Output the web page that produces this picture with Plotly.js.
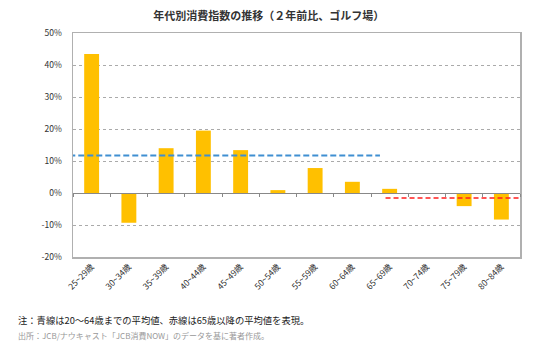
<!DOCTYPE html>
<html>
<head>
<meta charset="utf-8">
<script src="https://cdn.plot.ly/plotly-3.0.1.min.js"></script>
<style>
html,body{margin:0;padding:0;background:#fff;}
#chart{width:554px;height:352px;}
</style>
</head>
<body>
<div id="chart"></div>
<script>
const categories = ["25~29歳","30~34歳","35~39歳","40~44歳","45~49歳","50~54歳","55~59歳","60~64歳","65~69歳","70~74歳","75~79歳","80~84歳"];
const values = [43.4, -9.3, 14.0, 19.5, 13.4, 0.9, 7.8, 3.5, 1.3, 0, -4.1, -8.3];
const avgUnder65 = 11.7;
const avgOver65 = -1.6;
const yTickVals = [-20, -10, 0, 10, 20, 30, 40, 50];
const yTickText = ["-20%", "-10%", "0%", "10%", "20%", "30%", "40%", "50%"];

const font = "'Noto Sans CJK JP', 'Noto Sans', sans-serif";

const traces = [
  {
    type: "bar",
    x: categories,
    y: values,
    marker: {color: "#FFC000", line: {width: 0}},
    width: 0.4,
    hoverinfo: "skip",
    xaxis: "x",
    yaxis: "y"
  },
  {
    type: "scatter",
    mode: "markers",
    x: categories,
    y: values.map(() => 0),
    marker: {opacity: 0},
    showlegend: false,
    hoverinfo: "skip",
    xaxis: "x2",
    yaxis: "y"
  }
];

const layout = {
  width: 554,
  height: 352,
  margin: {l: 73, r: 34, t: 33, b: 95},
  paper_bgcolor: "#fff",
  plot_bgcolor: "#fff",
  showlegend: false,
  font: {family: font, color: "#333", size: 9},
  title: {
    text: "<b>年代別消費指数の推移（２年前比、ゴルフ場）</b>",
    x: 0.485, xanchor: "center",
    y: 0.955, yanchor: "middle",
    font: {family: font, size: 11, color: "#333"}
  },
  xaxis: {
    type: "category",
    range: [-0.5, 11.5],
    tickangle: -45,
    tickfont: {family: font, size: 8.5, color: "#333"},
    showline: true, linecolor: "#b0b0b0", linewidth: 1.5,
    mirror: true,
    ticks: "",
    showgrid: false,
    zeroline: false
  },
  xaxis2: {
    type: "category",
    overlaying: "x",
    matches: "x",
    anchor: "free",
    position: 20/70,
    side: "bottom",
    showticklabels: false,
    ticks: "outside",
    tickson: "boundaries",
    ticklen: 3,
    tickcolor: "#888",
    showline: true,
    linecolor: "#888",
    linewidth: 1,
    showgrid: false,
    zeroline: false
  },
  yaxis: {
    range: [-20, 50],
    tickvals: yTickVals,
    ticktext: yTickText,
    tickfont: {family: font, size: 8.5, color: "#333"},
    ticks: "outside",
    ticklen: 8,
    tickcolor: "rgba(0,0,0,0)",
    showline: true, linecolor: "#b0b0b0", linewidth: 1.5,
    mirror: true,
    showgrid: true,
    gridcolor: "#aaaaaa",
    griddash: "dot",
    gridwidth: 1,
    zeroline: false
  },
  shapes: [
    {type: "line", xref: "x", yref: "y", x0: -0.6, x1: 7.74, y0: avgUnder65, y1: avgUnder65,
     line: {color: "#3F8FD2", width: 2, dash: "6px,3px"}},
    {type: "line", xref: "x", yref: "y", x0: 7.89, x1: 11.55, y0: avgOver65, y1: avgOver65,
     line: {color: "#FF1E1E", width: 1.5, dash: "5px,3px"}}
  ],
  annotations: [
    {text: "注：青線は20～64歳までの平均値、赤線は65歳以降の平均値を表現。",
     xref: "paper", yref: "paper", x: -0.1275, y: -0.28, xanchor: "left", yanchor: "middle",
     showarrow: false, font: {family: font, size: 9.3, color: "#222"}},
    {text: "出所：JCB/ナウキャスト「JCB消費NOW」のデータを基に著者作成。",
     xref: "paper", yref: "paper", x: -0.1275, y: -0.352, xanchor: "left", yanchor: "middle",
     showarrow: false, font: {family: font, size: 8, color: "#999"}}
  ]
};

Plotly.newPlot("chart", traces, layout, {displayModeBar: false, staticPlot: true});
</script>
</body>
</html>
